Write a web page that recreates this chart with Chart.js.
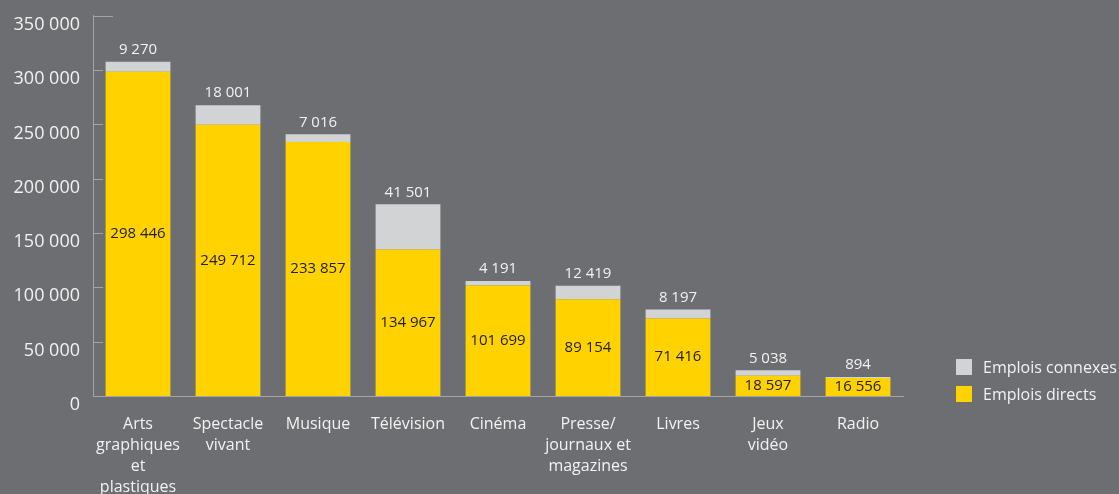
<!DOCTYPE html>
<html>
<head>
<meta charset="utf-8">
<script src="https://cdn.jsdelivr.net/npm/chart.js@4"></script>
<style>
  html, body { margin: 0; padding: 0; background: #6d6e71; }
  #wrap { position: relative; width: 1119px; height: 494px; }
  #legend { position: absolute; left: 956px; top: 353px; font-family: "Open Sans", sans-serif; font-size: 16px; color: #f2f2f2; }
  #legend div { display: flex; align-items: center; height: 27px; }
  #legend span.sw { display: inline-block; width: 16px; height: 16px; margin-right: 11px; }
</style>
</head>
<body>
<div id="wrap">
  <canvas id="c" width="1119" height="494"></canvas>
  <div id="legend"></div>
</div>
<script>
const categories = [["Arts", "graphiques", "et", "plastiques"], ["Spectacle", "vivant"], "Musique", "Télévision", "Cinéma", ["Presse/", "journaux et", "magazines"], "Livres", ["Jeux", "vidéo"], "Radio"];
const emploisDirects = [298446, 249712, 233857, 134967, 101699, 89154, 71416, 18597, 16556];
const emploisConnexes = [9270, 18001, 7016, 41501, 4191, 12419, 8197, 5038, 894];
const yTicks = [0, 50000, 100000, 150000, 200000, 250000, 300000, 350000];
const seriesNames = ["Emplois connexes", "Emplois directs"];

const YELLOW = "#ffd200", GREY = "#d2d3d5", AXIS = "#a3a4a7", TXT = "#f2f2f2";
const fmt = v => String(v).replace(/\B(?=(\d{3})+(?!\d))/g, " ");
const FONT = '"Open Sans", sans-serif';

const labelPlugin = {
  id: "labels",
  afterDatasetsDraw(chart) {
    const ctx = chart.ctx;
    const yScale = chart.scales.y;
    const metaD = chart.getDatasetMeta(0);
    const metaC = chart.getDatasetMeta(1);
    ctx.save();
    ctx.textAlign = "center";
    ctx.textBaseline = "middle";
    ctx.font = "15px " + FONT;
    metaD.data.forEach((bar, i) => {
      ctx.fillStyle = "#222224";
      const mid = yScale.getPixelForValue(emploisDirects[i] / 2);
      ctx.fillText(fmt(emploisDirects[i]), bar.x, mid);
    });
    metaC.data.forEach((bar, i) => {
      ctx.fillStyle = TXT;
      ctx.fillText(fmt(emploisConnexes[i]), bar.x, bar.y - 12);
    });
    // inward tick marks
    ctx.strokeStyle = AXIS;
    ctx.lineWidth = 1;
    const left = chart.chartArea.left;
    yTicks.forEach(t => {
      if (t === 0) return;
      const y = Math.round(yScale.getPixelForValue(t)) + 0.5;
      const len = t === yTicks[yTicks.length - 1] ? 20 : 10;
      ctx.beginPath();
      ctx.moveTo(left, y);
      ctx.lineTo(left + len, y);
      ctx.stroke();
    });
    ctx.restore();
  }
};

new Chart(document.getElementById("c"), {
  type: "bar",
  data: {
    labels: categories,
    datasets: [
      { label: seriesNames[1], data: emploisDirects, backgroundColor: YELLOW, stack: "s" },
      { label: seriesNames[0], data: emploisConnexes, backgroundColor: GREY, stack: "s" }
    ]
  },
  options: {
    responsive: false,
    animation: false,
    layout: { padding: { top: 10, right: 216, left: 0, bottom: 0 } },
    plugins: { legend: { display: false }, tooltip: { enabled: false } },
    datasets: { bar: { categoryPercentage: 1, barPercentage: 0.72 } },
    scales: {
      x: {
        stacked: true,
        grid: { display: false },
        border: { display: true, color: AXIS, width: 1 },
        ticks: { color: TXT, font: { family: FONT, size: 16, lineHeight: 1.32 }, padding: 10, maxRotation: 0, autoSkip: false },
        afterFit: s => { s.height = 98; }
      },
      y: {
        stacked: true,
        min: 0, max: 350000,
        grid: { display: false },
        border: { display: true, color: AXIS, width: 1 },
        afterBuildTicks: s => { s.ticks = yTicks.map(v => ({ value: v })); },
        ticks: { color: TXT, font: { family: FONT, size: 18 }, padding: 5, labelOffset: 9, callback: v => fmt(v) },
        afterFit: s => { s.width = 93; }
      }
    }
  },
  plugins: [labelPlugin]
});

const leg = document.getElementById("legend");
[[GREY, seriesNames[0]], [YELLOW, seriesNames[1]]].forEach(([c, n]) => {
  const d = document.createElement("div");
  d.innerHTML = '<span class="sw" style="background:' + c + '"></span>' + n;
  leg.appendChild(d);
});
</script>
</body>
</html>
